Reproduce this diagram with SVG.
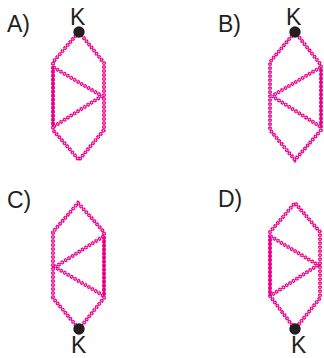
<svg xmlns="http://www.w3.org/2000/svg" width="324" height="358" viewBox="0 0 324 358">
<style>
.e{fill:none;stroke:#ec008c;stroke-width:3.8;stroke-dasharray:2.6 1.4}
.o{fill:none;stroke:#ec008c;stroke-width:1.3}
.i{fill:none;stroke:#fff;stroke-width:1.1;stroke-dasharray:1.2 2.8;stroke-dashoffset:-.7}
.h{fill:none;stroke:#ec008c;stroke-width:2.4}
.t{font-family:"Liberation Sans",Arial,sans-serif;font-size:23px;fill:#231f20}
.d{fill:#231f20}
</style>
<defs>
<path id="pa" d="M79 32L53 62V130L79 160L104 130V63ZM53 67L102 96L53 127"/>
<path id="pb" d="M295 32L270 62V130L295 160L321 130V65ZM321 67L272 96L321 127"/>
<path id="pc" d="M79 329L53 298V232L78 203L104 232V298ZM104 236L55 267L104 296"/>
<path id="pd" d="M295 329L270 296V232L295 203L320 232V298ZM270 236L318 265L270 296"/>
</defs>
<g id="connectors">
<use href="#pa" class="e"/><use href="#pa" class="o"/><use href="#pa" class="i"/>
<use href="#pb" class="e"/><use href="#pb" class="o"/><use href="#pb" class="i"/>
<use href="#pc" class="e"/><use href="#pc" class="o"/><use href="#pc" class="i"/>
<use href="#pd" class="e"/><use href="#pd" class="o"/><use href="#pd" class="i"/>
<path class="h" d="M53 67V127M321 67V127M104 236V296M270 236V296"/>
</g>
<g id="node-a"><circle class="d" cx="79" cy="32" r="5.7"/><text class="t" x="7" y="32">A)</text><text class="t" x="70" y="25">K</text></g>
<g id="node-b"><circle class="d" cx="295" cy="32" r="5.7"/><text class="t" x="218" y="32">B)</text><text class="t" x="286" y="25">K</text></g>
<g id="node-c"><circle class="d" cx="79" cy="329" r="5.7"/><text class="t" x="7" y="208">C)</text><text class="t" x="71" y="353">K</text></g>
<g id="node-d"><circle class="d" cx="295" cy="329" r="5.7"/><text class="t" x="218" y="207">D)</text><text class="t" x="291" y="353">K</text></g>
</svg>
